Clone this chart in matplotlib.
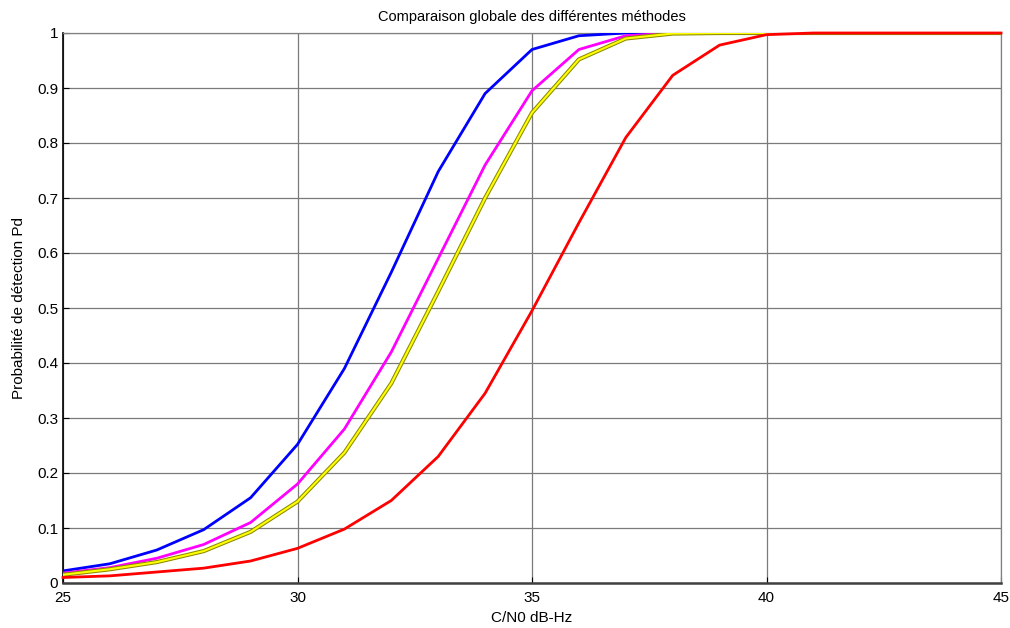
import matplotlib
matplotlib.use("Agg")
import matplotlib.pyplot as plt

plt.rcParams['font.family'] = ['Liberation Sans', 'DejaVu Sans']

cn0 = [25, 26, 27, 28, 29, 30, 31, 32, 33, 34, 35, 36, 37, 38, 39, 40, 41, 42, 43, 44, 45]
pd_blue = [0.022, 0.035, 0.060, 0.097, 0.155, 0.252, 0.390, 0.565, 0.748, 0.890, 0.970, 0.995, 1.0, 1.0, 1.0, 1.0, 1.0, 1.0, 1.0, 1.0, 1.0]
pd_magenta = [0.018, 0.028, 0.045, 0.070, 0.110, 0.180, 0.280, 0.420, 0.590, 0.760, 0.895, 0.970, 0.995, 1.0, 1.0, 1.0, 1.0, 1.0, 1.0, 1.0, 1.0]
pd_yellow = [0.015, 0.025, 0.038, 0.058, 0.093, 0.148, 0.237, 0.363, 0.530, 0.700, 0.855, 0.952, 0.990, 0.999, 1.0, 1.0, 1.0, 1.0, 1.0, 1.0, 1.0]
pd_red = [0.010, 0.013, 0.020, 0.027, 0.040, 0.063, 0.098, 0.150, 0.230, 0.345, 0.495, 0.655, 0.810, 0.923, 0.978, 0.997, 1.0, 1.0, 1.0, 1.0, 1.0]

x_ticks = [25, 30, 35, 40, 45]
y_ticks = [0, 0.1, 0.2, 0.3, 0.4, 0.5, 0.6, 0.7, 0.8, 0.9, 1]
y_labels = ['0', '0.1', '0.2', '0.3', '0.4', '0.5', '0.6', '0.7', '0.8', '0.9', '1']

fig = plt.figure(figsize=(10.10, 6.28), dpi=100)
ax = fig.add_axes([63/1010, 1 - 583/628, (1001-63)/1010, (583-33)/628])

ax.plot(cn0, pd_blue, color='#0000ff', lw=2, zorder=3)
ax.plot(cn0, pd_magenta, color='#ff00ff', lw=2, zorder=3)
ax.plot(cn0, pd_yellow, color='#8a8a00', lw=3, zorder=3)
ax.plot(cn0, pd_yellow, color='#ffff00', lw=1.5, zorder=3)
ax.plot(cn0, pd_red, color='#ff0000', lw=2, zorder=4, clip_on=False)

ax.set_xlim(25, 45)
ax.set_ylim(0, 1)
ax.set_xticks(x_ticks)
ax.set_xticklabels([str(v) for v in x_ticks])
ax.set_yticks(y_ticks)
ax.set_yticklabels(y_labels)
ax.grid(True, color='#7a7a7a', lw=0.9, ls='-')
ax.set_axisbelow(True)
ax.tick_params(direction='in', length=4, labelsize=11, colors='black', width=0.8)
ax.tick_params(axis='x', pad=6)

for side in ['top', 'right']:
    ax.spines[side].set_color('#808080')
    ax.spines[side].set_linewidth(0.9)
ax.spines['left'].set_color('black')
ax.spines['bottom'].set_color('#404040')
ax.spines['bottom'].set_linewidth(1.8)
ax.spines['left'].set_linewidth(1.2)

ax.set_title('Comparaison globale des différentes méthodes', fontsize=10.5, pad=9)
ax.set_xlabel('C/N0 dB-Hz', fontsize=11, labelpad=4)
ax.set_ylabel('Probabilité de détection Pd', fontsize=11, labelpad=8)

fig.savefig('out.png', dpi=100, facecolor='white')
